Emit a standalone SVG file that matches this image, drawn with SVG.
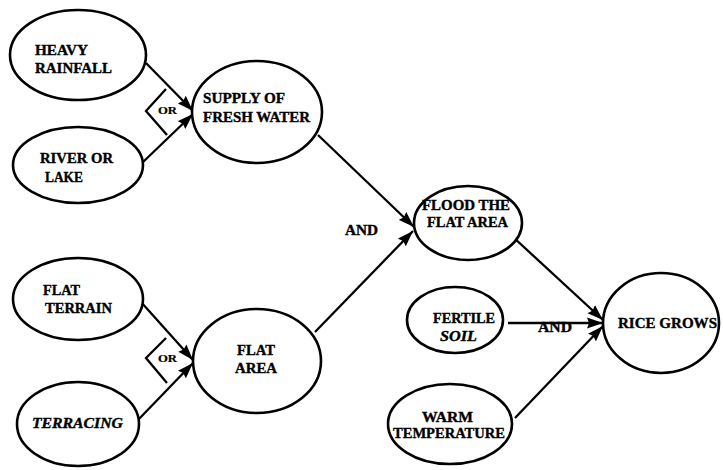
<svg xmlns="http://www.w3.org/2000/svg" width="723" height="470" viewBox="0 0 723 470">
<style>
.n ellipse{fill:#fff;stroke:#000;stroke-width:2.6}
text{font-family:"Liberation Serif","Times New Roman",serif;font-weight:bold;font-size:14px;fill:#000;stroke:#000;stroke-width:0.35}
.it{font-style:italic}
.sm{font-size:10px;stroke-width:0.2}
.c line,.c polyline{stroke:#000;stroke-width:2.3;fill:none}
</style>
<defs>
<marker id="ah" markerUnits="userSpaceOnUse" markerWidth="17" markerHeight="12" refX="16" refY="6" orient="auto">
<path d="M0,0.5 L16,6 L0,11.5 L2,6 Z" fill="#000"/>
</marker>
</defs>
<rect width="723" height="470" fill="#fff"/>
<g class="c" id="connectors">
<line x1="146" y1="63" x2="193" y2="111" marker-end="url(#ah)"/>
<line x1="142" y1="163" x2="193" y2="114" marker-end="url(#ah)"/>
<polyline points="166,89 146,111 167,135"/>
<line x1="141" y1="302" x2="193" y2="360" marker-end="url(#ah)"/>
<line x1="138" y1="420" x2="193" y2="363" marker-end="url(#ah)"/>
<polyline points="166,338 146,358 167,383"/>
<line x1="318" y1="135" x2="414" y2="227" marker-end="url(#ah)"/>
<line x1="315" y1="332" x2="413" y2="231" marker-end="url(#ah)"/>
<line x1="513" y1="237" x2="603" y2="320" marker-end="url(#ah)"/>
<line x1="508" y1="323" x2="603" y2="323" marker-end="url(#ah)"/>
<line x1="515" y1="418" x2="603" y2="326" marker-end="url(#ah)"/>
<text class="sm" x="158" y="114" textLength="19" lengthAdjust="spacingAndGlyphs">OR</text>
<text class="sm" x="158" y="362" textLength="19" lengthAdjust="spacingAndGlyphs">OR</text>
<text x="345" y="235" textLength="33" lengthAdjust="spacingAndGlyphs">AND</text>
<text x="538" y="332" textLength="34" lengthAdjust="spacingAndGlyphs">AND</text>
</g>
<g class="n" id="heavy-rainfall">
<ellipse cx="78" cy="55" rx="68" ry="45"/>
<text x="35" y="55" textLength="53" lengthAdjust="spacingAndGlyphs">HEAVY</text>
<text x="35" y="73" textLength="77" lengthAdjust="spacingAndGlyphs">RAINFALL</text>
</g>
<g class="n" id="river-or-lake">
<ellipse cx="78" cy="165" rx="65" ry="38"/>
<text x="40" y="163" textLength="73" lengthAdjust="spacingAndGlyphs">RIVER OR</text>
<text x="45" y="182" textLength="38" lengthAdjust="spacingAndGlyphs">LAKE</text>
</g>
<g class="n" id="supply-fresh-water">
<ellipse cx="257" cy="112" rx="65" ry="51"/>
<text x="203" y="103" textLength="82" lengthAdjust="spacingAndGlyphs">SUPPLY OF</text>
<text x="203" y="122" textLength="107" lengthAdjust="spacingAndGlyphs">FRESH WATER</text>
</g>
<g class="n" id="flat-terrain">
<ellipse cx="78" cy="299" rx="65" ry="41"/>
<text x="43" y="295" textLength="37" lengthAdjust="spacingAndGlyphs">FLAT</text>
<text x="45" y="313" textLength="67" lengthAdjust="spacingAndGlyphs">TERRAIN</text>
</g>
<g class="n" id="terracing">
<ellipse cx="78" cy="424" rx="61" ry="42"/>
<text class="it" x="32" y="428" textLength="91" lengthAdjust="spacingAndGlyphs">TERRACING</text>
</g>
<g class="n" id="flat-area">
<ellipse cx="257" cy="361" rx="64" ry="52"/>
<text x="237" y="355" textLength="38" lengthAdjust="spacingAndGlyphs">FLAT</text>
<text x="235" y="373" textLength="42" lengthAdjust="spacingAndGlyphs">AREA</text>
</g>
<g class="n" id="flood-flat-area">
<ellipse cx="468" cy="223" rx="54" ry="37"/>
<text x="422" y="210" textLength="88" lengthAdjust="spacingAndGlyphs">FLOOD THE</text>
<text x="427" y="227" textLength="81" lengthAdjust="spacingAndGlyphs">FLAT AREA</text>
</g>
<g class="n" id="fertile-soil">
<ellipse cx="455" cy="320" rx="48" ry="33"/>
<text x="433" y="323" textLength="62" lengthAdjust="spacingAndGlyphs">FERTILE</text>
<text class="it" x="440" y="341" textLength="37" lengthAdjust="spacingAndGlyphs">SOIL</text>
</g>
<g class="n" id="warm-temperature">
<ellipse cx="450" cy="424" rx="62" ry="40"/>
<text x="422" y="422" textLength="51" lengthAdjust="spacingAndGlyphs">WARM</text>
<text x="393" y="438" textLength="112" lengthAdjust="spacingAndGlyphs">TEMPERATURE</text>
</g>
<g class="n" id="rice-grows">
<ellipse cx="661" cy="323" rx="58" ry="50"/>
<text x="618" y="328" textLength="99" lengthAdjust="spacingAndGlyphs">RICE GROWS</text>
</g>
</svg>
